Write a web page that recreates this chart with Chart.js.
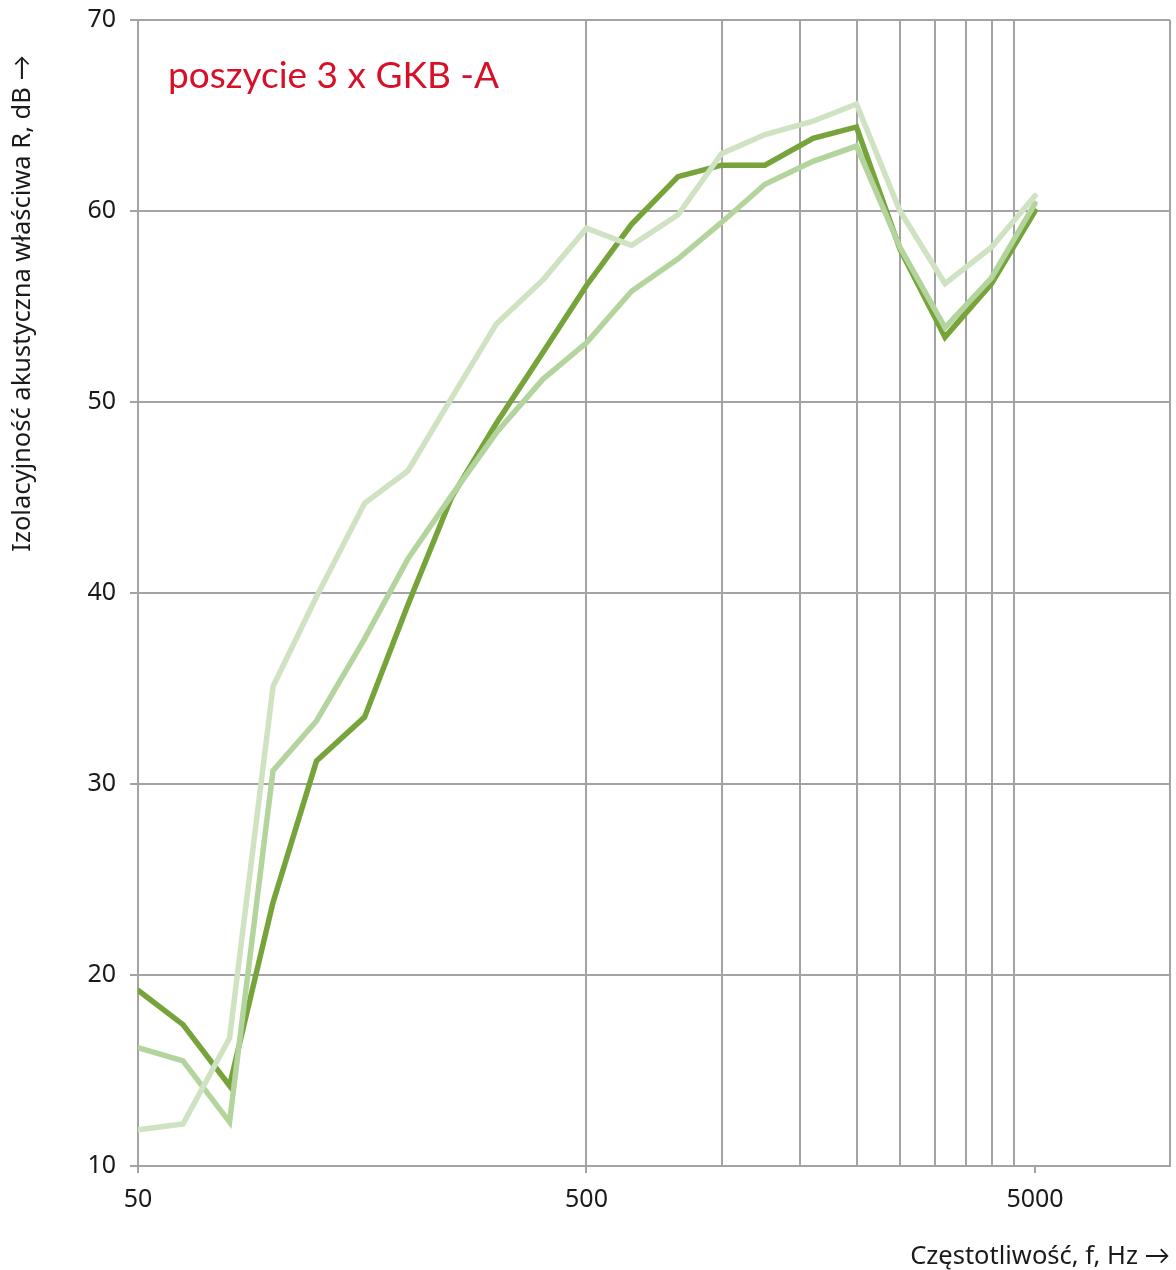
<!DOCTYPE html>
<html>
<head>
<meta charset="utf-8">
<script src="https://cdn.jsdelivr.net/npm/chart.js@4"></script>
<style>
  html, body { margin: 0; padding: 0; background: #fff; }
  #wrap { width: 1176px; height: 1270px; position: relative; }
</style>
</head>
<body>
<div id="wrap"><canvas id="chart"></canvas></div>
<script>
// third-octave band centre frequencies, Hz
const freqs = [50, 63, 80, 100, 125, 160, 200, 250, 315, 400, 500, 630, 800, 1000, 1250, 1600, 2000, 2500, 3150, 4000, 5000];

// sound reduction index R, dB
const seriesDark   = [19.2, 17.4, 14.2, 23.8, 31.2, 33.5, 39.4, 45.0, 48.9, 52.6, 56.1, 59.3, 61.8, 62.4, 62.4, 63.8, 64.4, 58.0, 53.4, 56.2, 60.0];
const seriesMedium = [16.2, 15.5, 12.3, 30.7, 33.3, 37.6, 41.8, 45.1, 48.4, 51.2, 53.1, 55.8, 57.5, 59.4, 61.4, 62.6, 63.4, 58.1, 53.9, 56.5, 60.4];
const seriesLight  = [11.9, 12.2, 16.7, 35.1, 39.8, 44.7, 46.4, 50.2, 54.1, 56.4, 59.1, 58.2, 59.8, 63.0, 64.0, 64.7, 65.6, 60.0, 56.2, 58.1, 60.8];

// axis ticks
const xGridTicks = [50, 500, 1000, 1500, 2000, 2500, 3000, 3500, 4000, 4500, 5000, 10000];
const xLabelTicks = [50, 500, 5000];

const titleText = 'poszycie 3 x GKB -A';
const yTitle = 'Izolacyjność akustyczna właściwa R, dB →';
const xTitle = 'Częstotliwość, f, Hz →';

const gridGray = '#a3a3a3';
const fontFamily = '"Noto Sans", Lato, sans-serif';

const toPoints = arr => arr.map((v, i) => ({ x: freqs[i], y: v }));

// Text inside the chart and axis titles
const textPlugin = {
  id: 'texts',
  afterDraw(chart) {
    const ctx = chart.ctx;
    ctx.save();
    ctx.fillStyle = '#d7102a';
    ctx.font = '37px Lato, "Noto Sans", sans-serif';
    ctx.textAlign = 'left';
    ctx.textBaseline = 'alphabetic';
    ctx.fillText(titleText, 168, 88);

    ctx.fillStyle = '#1a1a1a';
    ctx.font = '25.5px ' + fontFamily;
    ctx.textAlign = 'right';
    ctx.fillText(xTitle, 1170, 1264);

    ctx.translate(23, 55);
    ctx.rotate(-Math.PI / 2);
    ctx.textAlign = 'right';
    ctx.textBaseline = 'middle';
    ctx.fillText(yTitle, 0, 0);
    ctx.restore();
  }
};

new Chart(document.getElementById('chart'), {
  type: 'line',
  data: {
    datasets: [
      { label: 'A', data: toPoints(seriesDark), borderColor: '#76a43b', borderWidth: 5.5, order: 3 },
      { label: 'B', data: toPoints(seriesMedium), borderColor: '#b4d49e', borderWidth: 5.5, order: 2 },
      { label: 'C', data: toPoints(seriesLight), borderColor: '#cfe2c1', borderWidth: 5.5, order: 1 }
    ]
  },
  options: {
    responsive: true,
    maintainAspectRatio: false,
    animation: false,
    layout: { padding: { top: 20, right: 6, left: 0, bottom: 0 } },
    elements: {
      point: { radius: 0 },
      line: { tension: 0, borderCapStyle: 'round', borderJoinStyle: 'miter' }
    },
    plugins: {
      legend: { display: false },
      tooltip: { enabled: false }
    },
    scales: {
      x: {
        type: 'logarithmic',
        min: 50,
        max: 10000,
        afterBuildTicks: scale => { scale.ticks = xGridTicks.map(v => ({ value: v })); },
        afterFit: scale => { scale.height = 104; scale.paddingLeft = 0; scale.paddingRight = 0; },
        border: { display: true, color: gridGray, width: 2 },
        grid: {
          lineWidth: 2,
          tickLength: 7,
          color: c => (c.tick && (c.tick.value === 5000 || c.tick.value === 50)) ? 'rgba(0,0,0,0)' : gridGray,
          tickColor: c => (c.tick && xLabelTicks.includes(c.tick.value)) ? gridGray : 'rgba(0,0,0,0)'
        },
        ticks: {
          autoSkip: false,
          maxRotation: 0,
          padding: 12,
          color: '#1a1a1a',
          font: { size: 25, family: fontFamily },
          callback: v => xLabelTicks.includes(v) ? String(v) : ''
        }
      },
      y: {
        min: 10,
        max: 70,
        afterFit: scale => { scale.width = 138; scale.paddingTop = 0; scale.paddingBottom = 0; },
        border: { display: true, color: gridGray, width: 2 },
        grid: { lineWidth: 2, tickLength: 8, color: gridGray, tickColor: gridGray },
        ticks: {
          stepSize: 10,
          padding: 14,
          color: '#1a1a1a',
          font: { size: 25, family: fontFamily }
        }
      }
    }
  },
  plugins: [textPlugin]
});
</script>
</body>
</html>
